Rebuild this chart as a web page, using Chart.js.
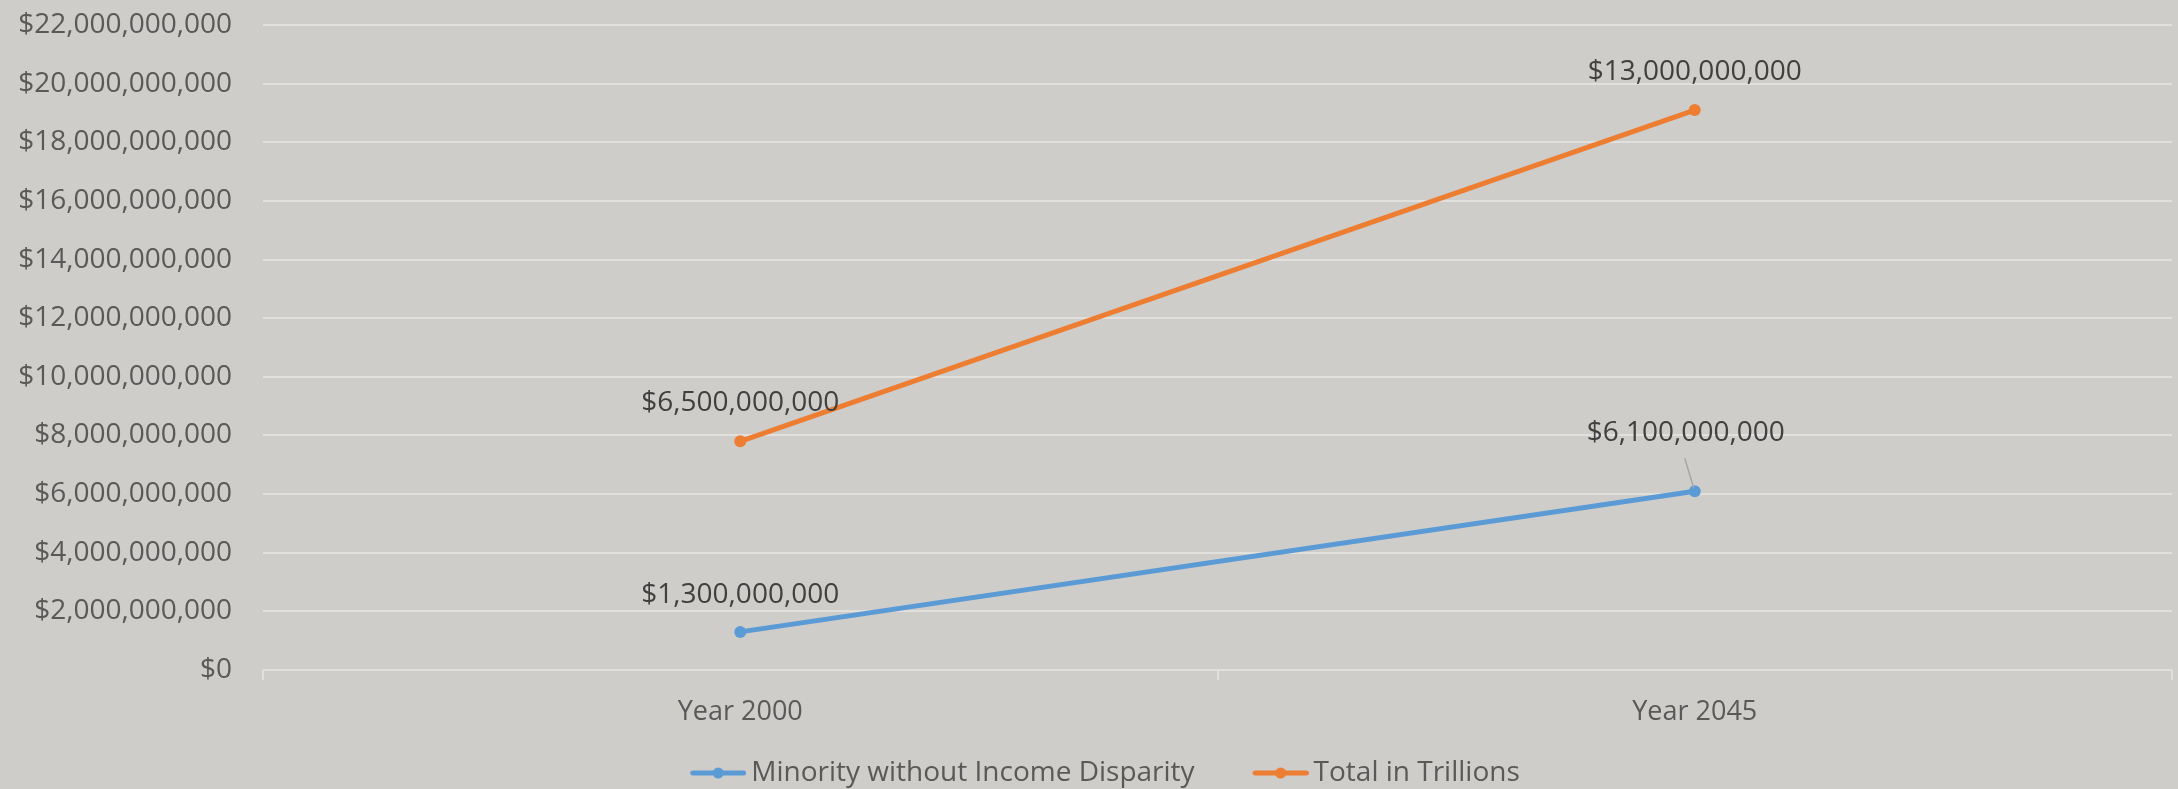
<!DOCTYPE html>
<html>
<head>
<meta charset="utf-8">
<script src="https://cdn.jsdelivr.net/npm/chart.js@4.4.1/dist/chart.umd.min.js"></script>
<style>
html,body{margin:0;padding:0;background:#cfcdca;overflow:hidden}
canvas{display:block}
</style>
</head>
<body>
<canvas id="c" width="2178" height="789"></canvas>
<script>
// ---- data ----
const categories = ['Year 2000', 'Year 2045'];
const seriesNames = ['Minority without Income Disparity', 'Total in Trillions'];
const minorityValues = [1300000000, 6100000000];
const totalValues = [6500000000, 13000000000];
const yMin = 0;
const yMax = 22000000000;
const yStep = 2000000000;

// ---- styles ----
const BLUE = '#5b9bd5';
const ORANGE = '#ed7d31';
const GRID = '#e2e0dd';
const FONT = '"Open Sans", "Liberation Sans", sans-serif';

function money(v) { return '$' + Number(v).toLocaleString('en-US'); }

// legend marker: line with dot, drawn in the right part of a wider transparent image
function legendMarker(color) {
  const c = document.createElement('canvas');
  c.width = 96; c.height = 14;
  const g = c.getContext('2d');
  const x0 = 40;
  g.strokeStyle = color; g.lineWidth = 5; g.lineCap = 'round';
  g.beginPath(); g.moveTo(x0 + 2.5, 7); g.lineTo(x0 + 53.5, 7); g.stroke();
  g.fillStyle = color;
  g.beginPath(); g.arc(x0 + 28, 7, 5.5, 0, Math.PI * 2); g.fill();
  return c;
}
const markers = [legendMarker(BLUE), legendMarker(ORANGE)];

const bgPlugin = {
  id: 'bg',
  beforeDraw(chart) {
    const ctx = chart.ctx;
    ctx.save();
    ctx.fillStyle = '#cfcdca';
    ctx.fillRect(0, 0, chart.width, chart.height);
    ctx.restore();
  }
};

const dataLabelPlugin = {
  id: 'dataLabels',
  afterDatasetsDraw(chart, args, opts) {
    const ctx = chart.ctx;
    ctx.save();
    ctx.font = '28px ' + FONT;
    ctx.fillStyle = '#404040';
    ctx.textAlign = 'center';
    ctx.textBaseline = 'middle';
    chart.data.datasets.forEach((ds, di) => {
      const meta = chart.getDatasetMeta(di);
      meta.data.forEach((pt, i) => {
        const off = opts.offsets[di][i];
        const lx = pt.x + off[0], ly = pt.y + off[1];
        if (off[2]) {
          ctx.save();
          ctx.strokeStyle = '#a5a5a5';
          ctx.lineWidth = 1.5;
          ctx.beginPath();
          ctx.moveTo(pt.x - 10, pt.y - 33);
          ctx.lineTo(pt.x - 1, pt.y - 3);
          ctx.stroke();
          ctx.restore();
        }
        ctx.fillText(money(ds.data[i]), lx, ly);
      });
    });
    ctx.restore();
  }
};

new Chart(document.getElementById('c'), {
  type: 'line',
  data: {
    labels: categories,
    datasets: [
      {
        label: seriesNames[0],
        data: minorityValues,
        borderColor: BLUE,
        backgroundColor: BLUE,
        pointBackgroundColor: BLUE,
        borderWidth: 5,
        borderCapStyle: 'round',
        pointRadius: 6,
        pointBorderWidth: 0,
        pointHoverRadius: 6,
        fill: false
      },
      {
        label: seriesNames[1],
        data: totalValues,
        borderColor: ORANGE,
        backgroundColor: ORANGE,
        pointBackgroundColor: ORANGE,
        borderWidth: 5,
        borderCapStyle: 'round',
        pointRadius: 6,
        pointBorderWidth: 0,
        pointHoverRadius: 6,
        fill: false
      }
    ]
  },
  options: {
    responsive: false,
    animation: false,
    events: [],
    layout: { padding: { top: 25, left: 2, right: 1, bottom: 0 } },
    scales: {
      x: {
        offset: true,
        grid: {
          offset: true,
          drawOnChartArea: false,
          drawTicks: true,
          tickLength: 10,
          color: GRID,
          lineWidth: 2
        },
        border: { display: false },
        ticks: {
          color: '#595959',
          font: { family: FONT, size: 27 },
          padding: 16,
          maxRotation: 0
        },
        afterFit(scale) { scale.height = 62; }
      },
      y: {
        stacked: true,
        min: yMin,
        max: yMax,
        grid: { color: GRID, lineWidth: 2, drawTicks: false },
        border: { display: false },
        ticks: {
          stepSize: yStep,
          color: '#595959',
          font: { family: FONT, size: 28 },
          padding: 31,
          callback: (v) => money(v)
        },
        afterFit(scale) {
          scale.width = 261;
          scale.paddingTop = 0;
          scale.paddingBottom = 0;
        }
      }
    },
    plugins: {
      tooltip: { enabled: false },
      legend: {
        position: 'bottom',
        maxHeight: 57,
        labels: {
          usePointStyle: true,
          pointStyleWidth: 78,
          padding: 27,
          color: '#595959',
          font: { family: FONT, size: 28 },
          generateLabels(chart) {
            const items = Chart.defaults.plugins.legend.labels.generateLabels(chart);
            items.forEach((it, i) => { it.pointStyle = markers[i]; });
            return items;
          }
        }
      },
      dataLabels: {
        offsets: [
          [[0, -37], [-9, -58, true]],
          [[0, -38], [0, -38]]
        ]
      }
    }
  },
  plugins: [bgPlugin, dataLabelPlugin]
});
</script>
</body>
</html>
